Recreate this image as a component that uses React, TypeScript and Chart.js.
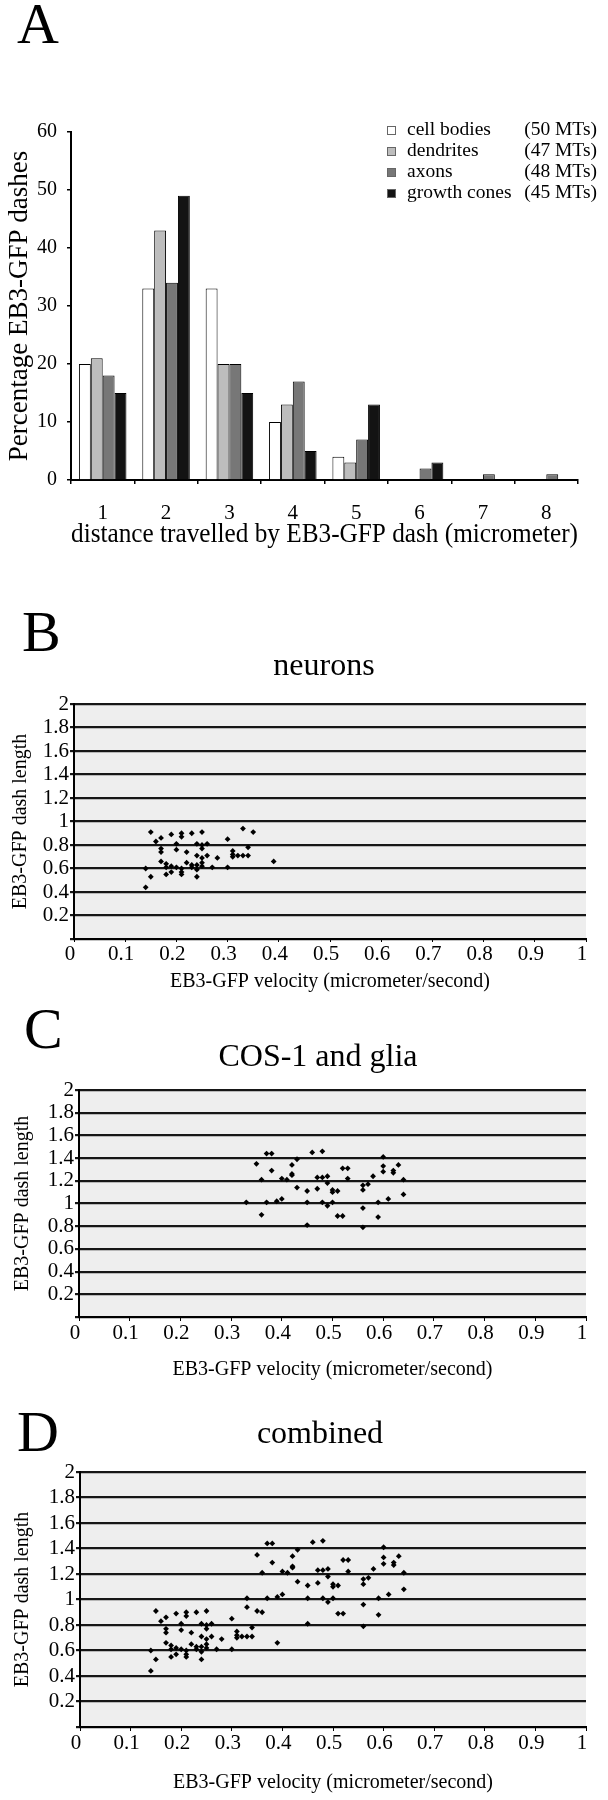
import React, { useEffect, useRef } from 'react';
import { Chart, registerables } from 'chart.js';

Chart.register(...registerables);

const FONT = "'Liberation Serif', 'Times New Roman', serif";
Chart.defaults.font.family = FONT;
Chart.defaults.color = '#000';

// ---------- Panel A data ----------
const distanceCategories = ['1', '2', '3', '4', '5', '6', '7', '8'];
const cellBodies = [20, 33, 33, 10, 4, 0, 0, 0];
const dendrites = [21, 43, 20, 13, 3, 0, 0, 0];
const axons = [18, 34, 20, 17, 7, 2, 1, 1];
const growthCones = [15, 49, 15, 5, 13, 3, 0, 0];
const seriesNames = ['cell bodies', 'dendrites', 'axons', 'growth cones'];
const seriesCounts = ['(50 MTs)', '(47 MTs)', '(48 MTs)', '(45 MTs)'];
const seriesColors = ['#ffffff', '#bdbdbd', '#777777', '#131313'];
const percentTicks = [0, 10, 20, 30, 40, 50, 60];

// ---------- Scatter data ----------
const neuronVelocity = [0.14, 0.14, 0.15, 0.15, 0.16, 0.17, 0.17, 0.17, 0.17, 0.18, 0.18, 0.18, 0.19, 0.19, 0.19, 0.20, 0.20, 0.20, 0.21, 0.21, 0.21, 0.21, 0.21, 0.22, 0.22, 0.23, 0.23, 0.23, 0.24, 0.24, 0.24, 0.24, 0.24, 0.25, 0.25, 0.25, 0.25, 0.25, 0.25, 0.26, 0.26, 0.27, 0.28, 0.30, 0.30, 0.31, 0.31, 0.31, 0.32, 0.33, 0.33, 0.34, 0.34, 0.35, 0.39];
const neuronLength = [0.44, 0.60, 0.53, 0.91, 0.83, 0.86, 0.77, 0.74, 0.66, 0.55, 0.64, 0.61, 0.89, 0.62, 0.57, 0.81, 0.76, 0.61, 0.90, 0.87, 0.60, 0.57, 0.55, 0.74, 0.65, 0.90, 0.63, 0.61, 0.81, 0.71, 0.63, 0.59, 0.53, 0.91, 0.80, 0.77, 0.69, 0.65, 0.62, 0.81, 0.71, 0.61, 0.69, 0.85, 0.61, 0.75, 0.70, 0.72, 0.71, 0.94, 0.71, 0.78, 0.71, 0.91, 0.66];

const gliaVelocity = [0.33, 0.35, 0.36, 0.36, 0.37, 0.38, 0.38, 0.37, 0.39, 0.40, 0.40, 0.41, 0.42, 0.42, 0.42, 0.43, 0.43, 0.45, 0.45, 0.45, 0.46, 0.47, 0.47, 0.48, 0.48, 0.48, 0.49, 0.49, 0.49, 0.50, 0.50, 0.50, 0.51, 0.51, 0.52, 0.52, 0.53, 0.53, 0.56, 0.56, 0.56, 0.56, 0.57, 0.58, 0.59, 0.59, 0.60, 0.60, 0.60, 0.61, 0.62, 0.62, 0.63, 0.64, 0.64];
const gliaLength = [1.01, 1.35, 1.21, 0.90, 1.44, 1.44, 1.29, 1.01, 1.02, 1.04, 1.22, 1.21, 1.34, 1.26, 1.25, 1.39, 1.14, 1.11, 1.01, 0.81, 1.45, 1.23, 1.13, 1.46, 1.23, 1.01, 1.24, 1.18, 0.98, 1.12, 1.10, 1.01, 1.11, 0.89, 0.89, 1.31, 1.31, 1.22, 1.16, 1.12, 0.96, 0.79, 1.17, 1.24, 1.01, 0.88, 1.41, 1.33, 1.28, 1.04, 1.29, 1.27, 1.34, 1.21, 1.08];

const velocityTicks = [0, 0.1, 0.2, 0.3, 0.4, 0.5, 0.6, 0.7, 0.8, 0.9, 1];
const velocityTickLabels = ['0', '0.1', '0.2', '0.3', '0.4', '0.5', '0.6', '0.7', '0.8', '0.9', '1'];
const lengthTicks = [0, 0.2, 0.4, 0.6, 0.8, 1, 1.2, 1.4, 1.6, 1.8, 2];
const lengthTickLabels = ['', '0.2', '0.4', '0.6', '0.8', '1', '1.2', '1.4', '1.6', '1.8', '2'];

const toPoints = (xs: number[], ys: number[]) => xs.map((x, i) => ({ x, y: ys[i] }));

// ---------- plugins ----------
const legendPlugin = {
  id: 'panelLegend',
  afterDraw(chart: any) {
    const ctx = chart.ctx;
    ctx.save();
    ctx.font = `19.5px ${FONT}`;
    ctx.textBaseline = 'middle';
    chart.data.datasets.forEach((ds: any, i: number) => {
      const y = 130 + i * 21;
      ctx.fillStyle = ds.backgroundColor;
      ctx.fillRect(387, y - 4, 9, 9);
      ctx.strokeStyle = '#666';
      ctx.lineWidth = 1;
      ctx.strokeRect(387.5, y - 3.5, 8, 8);
      ctx.fillStyle = '#000';
      ctx.textAlign = 'left';
      ctx.fillText(ds.label, 407, y);
      ctx.textAlign = 'right';
      ctx.fillText(seriesCounts[i], 597, y);
    });
    ctx.restore();
  },
};

const plotBgPlugin = {
  id: 'plotBg',
  beforeDraw(chart: any) {
    const { ctx, chartArea } = chart;
    if (!chartArea) return;
    ctx.save();
    ctx.fillStyle = '#eeeeee';
    ctx.fillRect(chartArea.left, chartArea.top, chartArea.right - chartArea.left, chartArea.bottom - chartArea.top);
    ctx.restore();
  },
};

function barConfig() {
  const series = [cellBodies, dendrites, axons, growthCones];
  return {
    type: 'bar',
    data: {
      labels: distanceCategories,
      datasets: series.map((d, i) => ({
        label: seriesNames[i],
        data: d,
        backgroundColor: seriesColors[i],
        borderColor: '#000',
        borderWidth: 1,
        barPercentage: 1,
        categoryPercentage: 0.75,
      })),
    },
    options: {
      responsive: false,
      animation: false,
      layout: { padding: { top: 132, left: 0, right: 30, bottom: 9 } },
      plugins: { legend: { display: false }, tooltip: { enabled: false }, title: { display: false } },
      scales: {
        x: {
          offset: true,
          grid: { display: true, drawOnChartArea: false, drawTicks: true, tickLength: 4, color: '#000', lineWidth: 1.5, offset: true },
          border: { display: true, color: '#000', width: 2 },
          ticks: { font: { size: 21 }, color: '#000', padding: 17, autoSkip: false, maxRotation: 0 },
          title: { display: true, text: 'distance travelled by EB3-GFP dash (micrometer)', font: { size: 27 }, color: '#000', padding: { top: 0, bottom: 0 } },
          afterFit: (s: any) => { s.height = 71; },
        },
        y: {
          min: 0,
          max: 60,
          grid: { display: true, drawOnChartArea: false, drawTicks: true, tickLength: 4, color: '#000', lineWidth: 1.5 },
          border: { display: true, color: '#000', width: 2 },
          ticks: { font: { size: 20 }, color: '#000', padding: 10, autoSkip: false, callback: (v: any) => String(v) },
          afterBuildTicks: (s: any) => { s.ticks = percentTicks.map((v) => ({ value: v })); },
          title: { display: true, text: 'Percentage EB3-GFP dashes', font: { size: 27 }, color: '#000', padding: { top: 3.8, bottom: 0 } },
          afterFit: (s: any) => { s.width = 71; },
        },
      },
    },
    plugins: [legendPlugin],
  };
}

type ScatterOpts = {
  title: string;
  points: { x: number; y: number }[];
  padLeft: number;
  titlePad: { top: number; bottom: number };
  yAxisWidth: number;
  yTitlePad: number;
  xAxisHeight: number;
  xTickLength: number;
  xTitlePad: number;
};

function scatterConfig(o: ScatterOpts) {
  return {
    type: 'scatter',
    data: {
      datasets: [
        {
          label: o.title,
          data: o.points,
          backgroundColor: '#000',
          borderColor: '#000',
          borderWidth: 0,
          pointStyle: 'rectRot',
          pointRadius: 2.9,
        },
      ],
    },
    options: {
      responsive: false,
      animation: false,
      layout: { padding: { top: 0, left: o.padLeft, right: 0, bottom: 0 } },
      plugins: {
        legend: { display: false },
        tooltip: { enabled: false },
        title: { display: true, text: o.title, font: { size: 32, weight: 'normal' }, color: '#000', padding: o.titlePad },
      },
      scales: {
        x: {
          type: 'linear',
          min: 0,
          max: 1,
          grid: { display: true, drawOnChartArea: false, drawTicks: true, tickLength: o.xTickLength, color: '#000', lineWidth: 1 },
          border: { display: true, color: '#000', width: 2 },
          ticks: { font: { size: 21 }, color: '#000', padding: 0, autoSkip: false, maxRotation: 0, labelOffset: -4, callback: (_v: any, i: number) => velocityTickLabels[i] },
          afterBuildTicks: (s: any) => { s.ticks = velocityTicks.map((v) => ({ value: v })); },
          title: { display: true, text: 'EB3-GFP velocity (micrometer/second)', font: { size: 20 }, color: '#000', padding: { top: 0, bottom: o.xTitlePad } },
          afterFit: (s: any) => { s.height = o.xAxisHeight; },
        },
        y: {
          type: 'linear',
          min: 0,
          max: 2,
          grid: { display: true, drawOnChartArea: true, drawTicks: true, tickLength: 4, color: '#161616', lineWidth: 2.2 },
          border: { display: true, color: '#000', width: 2 },
          ticks: { font: { size: 21 }, color: '#000', padding: 1, autoSkip: false, callback: (_v: any, i: number) => lengthTickLabels[i] },
          afterBuildTicks: (s: any) => { s.ticks = lengthTicks.map((v) => ({ value: v })); },
          title: { display: true, text: 'EB3-GFP dash length', font: { size: 20 }, color: '#000', padding: { top: o.yTitlePad, bottom: 0 } },
          afterFit: (s: any) => { s.width = o.yAxisWidth; },
        },
        // empty right-hand margin (keeps the plot's right edge at x=586)
        rightMargin: {
          type: 'linear',
          position: 'right',
          axis: 'y',
          display: true,
          grid: { display: false, drawTicks: false },
          border: { display: false },
          ticks: { display: false },
          title: { display: false },
          afterFit: (s: any) => { s.width = 22; },
        },
      },
    },
    plugins: [plotBgPlugin],
  };
}

function ChartCanvas({ make, top, height }: { make: () => any; top: number; height: number }) {
  const ref = useRef<HTMLCanvasElement | null>(null);
  useEffect(() => {
    if (!ref.current) return;
    const chart = new Chart(ref.current, make());
    return () => chart.destroy();
  }, []);
  return (
    <canvas
      ref={ref}
      width={608}
      height={height}
      style={{ position: 'absolute', left: 0, top, width: 608, height, display: 'block' }}
    />
  );
}

function Letter({ text, left, capTop }: { text: string; left: number; capTop: number }) {
  return (
    <div
      style={{
        position: 'absolute',
        left,
        top: capTop - 10,
        fontFamily: FONT,
        fontSize: 58,
        lineHeight: 1,
        color: '#000',
      }}
    >
      {text}
    </div>
  );
}

export default function App() {
  const neuronPts = toPoints(neuronVelocity, neuronLength);
  const gliaPts = toPoints(gliaVelocity, gliaLength);
  const combinedPts = [...neuronPts, ...gliaPts];
  return (
    <div style={{ position: 'absolute', left: 0, top: 0, width: 608, height: 1800, background: '#fff', overflow: 'hidden' }}>
      <ChartCanvas make={barConfig} top={0} height={560} />
      <ChartCanvas
        top={640}
        height={360}
        make={() =>
          scatterConfig({
            title: 'neurons',
            points: neuronPts,
            padLeft: 40,
            titlePad: { top: 7.8, bottom: 17.8 },
            yAxisWidth: 34,
            yTitlePad: -31,
            xAxisHeight: 61,
            xTickLength: 3,
            xTitlePad: 6,
          })
        }
      />
      <ChartCanvas
        top={1030}
        height={360}
        make={() =>
          scatterConfig({
            title: 'COS-1 and glia',
            points: gliaPts,
            padLeft: 28,
            titlePad: { top: 8.8, bottom: 12.8 },
            yAxisWidth: 51,
            yTitlePad: -17,
            xAxisHeight: 73,
            xTickLength: 4,
            xTitlePad: 8,
          })
        }
      />
      <ChartCanvas
        top={1405}
        height={395}
        make={() =>
          scatterConfig({
            title: 'combined',
            points: combinedPts,
            padLeft: 32,
            titlePad: { top: 10.8, bottom: 17.8 },
            yAxisWidth: 48,
            yTitlePad: -21,
            xAxisHeight: 73,
            xTickLength: 4,
            xTitlePad: 5,
          })
        }
      />
      <Letter text="A" left={17} capTop={5} />
      <Letter text="B" left={22} capTop={613} />
      <Letter text="C" left={24} capTop={1010} />
      <Letter text="D" left={17} capTop={1413} />
    </div>
  );
}
